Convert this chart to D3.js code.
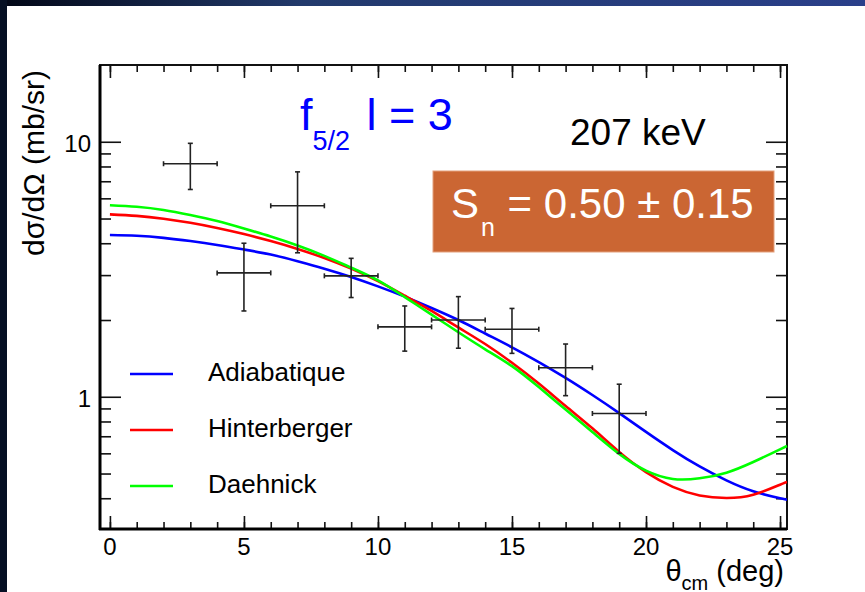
<!DOCTYPE html>
<html>
<head>
<meta charset="utf-8">
<script src="https://cdn.jsdelivr.net/npm/d3@7"></script>
<style>
  body { margin: 0; background: #fff; }
  text { font-family: "Liberation Sans", Arial, sans-serif; }
</style>
</head>
<body>
<div id="chart"></div>
<script>
// theta grid (deg) for the model curves
const thetaGrid = [0,1,2,3,4,5,6,7,8,9,10,11,12,13,14,15,16,17,18,19,20,21,22,23,24,25,25.26];
const adiabatique = [4.31,4.28,4.20,4.08,3.94,3.78,3.61,3.40,3.18,2.95,2.71,2.47,2.23,2.00,1.77,1.563,1.368,1.186,1.016,0.863,0.728,0.618,0.533,0.470,0.426,0.400,0.395];
const hinterberger = [5.19,5.12,4.99,4.81,4.59,4.345,4.08,3.80,3.50,3.18,2.84,2.49,2.17,1.87,1.61,1.36,1.127,0.920,0.752,0.608,0.506,0.443,0.410,0.401,0.413,0.452,0.463];
const daehnick     = [5.64,5.56,5.40,5.16,4.89,4.57,4.25,3.92,3.57,3.21,2.86,2.46,2.10,1.79,1.535,1.318,1.091,0.891,0.728,0.597,0.513,0.476,0.479,0.504,0.555,0.622,0.641];

// experimental points
const expTheta = [3,5,7,9,11,13,15,17,19];
const expVal   = [8.2,3.06,5.61,2.98,1.88,2.0,1.84,1.30,0.86];
const expHi    = [9.86,4.0,7.62,3.49,2.27,2.47,2.22,1.61,1.12];
const expLo    = [6.5,2.17,3.67,2.45,1.51,1.55,1.48,1.01,0.60];
const expXErr  = 1;

const seriesNames = ["Adiabatique","Hinterberger","Daehnick"];
const seriesColors = ["#0000ff","#ff0000","#00ff00"];

const xMajor = [0,5,10,15,20,25];
const xMinor = d3.range(0,26);
const yMajor = [1,10];
const yMinor = [0.4,0.5,0.6,0.7,0.8,0.9,2,3,4,5,6,7,8,9];

const W = 865, H = 592;
const pLeft = 100, pRight = 787, pTop = 65, pBottom = 529;

const svg = d3.select("#chart").append("svg").attr("width", W).attr("height", H);

// slide background strips
const defs = svg.append("defs");
const grad = defs.append("linearGradient").attr("id","topbar");
grad.append("stop").attr("offset","0%").attr("stop-color","#020716");
grad.append("stop").attr("offset","35%").attr("stop-color","#223a6c");
grad.append("stop").attr("offset","100%").attr("stop-color","#2a3f8a");
svg.append("rect").attr("x",0).attr("y",0).attr("width",W).attr("height",6).attr("fill","url(#topbar)");
svg.append("rect").attr("x",0).attr("y",0).attr("width",7).attr("height",H).attr("fill","#061024");

const xScale = d3.scaleLinear().domain([-0.37, 25.26]).range([pLeft, pRight]);
const yScale = d3.scaleLog().domain([0.303, 20]).range([pBottom, pTop]);

const g = svg.append("g");

// ticks: bottom / top / left / right, pointing inwards
function xAxis(sel, y, dir) {
  sel.append("g").attr("transform","translate(0,"+y+")")
    .call(d3.axisBottom(xScale).tickValues(xMinor).tickSize(-7*dir).tickFormat(""))
    .call(a => a.select(".domain").remove());
  sel.append("g").attr("transform","translate(0,"+y+")")
    .call(d3.axisBottom(xScale).tickValues(xMajor).tickSize(-13*dir).tickPadding(0).tickFormat(""))
    .call(a => a.select(".domain").remove());
}
function yAxis(sel, x, dir) {
  sel.append("g").attr("transform","translate("+x+",0)")
    .call(d3.axisLeft(yScale).tickValues(yMinor).tickSize(-11*dir).tickFormat(""))
    .call(a => a.select(".domain").remove());
  sel.append("g").attr("transform","translate("+x+",0)")
    .call(d3.axisLeft(yScale).tickValues(yMajor).tickSize(-21*dir).tickFormat(""))
    .call(a => a.select(".domain").remove());
}
xAxis(g, pBottom, 1);
xAxis(g, pTop, -1);
yAxis(g, pLeft, 1);
yAxis(g, pRight, -1);
g.selectAll(".tick line").attr("stroke","#111").attr("stroke-width",1.6);

// frame
g.append("rect").attr("x",pLeft).attr("y",pTop).attr("width",pRight-pLeft).attr("height",pBottom-pTop)
  .attr("fill","none").attr("stroke","#111").attr("stroke-width",2);
g.append("line").attr("x1",pLeft).attr("x2",pLeft).attr("y1",pTop).attr("y2",pBottom+1).attr("stroke","#000").attr("stroke-width",3);
g.append("line").attr("x1",pLeft-1).attr("x2",pRight).attr("y1",pBottom).attr("y2",pBottom).attr("stroke","#000").attr("stroke-width",3);

// tick labels
g.selectAll(".xlab").data(xMajor).enter().append("text")
  .attr("x", d => xScale(d)).attr("y", 555)
  .attr("text-anchor","middle").attr("font-size",24).attr("fill","#000")
  .text(d => d);
g.selectAll(".ylab").data(yMajor).enter().append("text")
  .attr("x", 91).attr("y", d => yScale(d) + 10)
  .attr("text-anchor","end").attr("font-size",24).attr("fill","#000")
  .text(d => d);

// axis titles
const xt = g.append("text").attr("x",784).attr("y",581).attr("text-anchor","end").attr("font-size",29).attr("fill","#000");
xt.append("tspan").text("θ");
xt.append("tspan").attr("font-size",20).attr("dy",9).text("cm");
xt.append("tspan").attr("dy",-9).text(" (deg)");

g.append("text").attr("transform","translate(44,163) rotate(-90)")
  .attr("text-anchor","middle").attr("font-size",30).attr("fill","#000")
  .text("dσ/dΩ (mb/sr)");

// model curves
const line = d3.line()
  .x(d => xScale(d[0])).y(d => yScale(d[1]))
  .curve(d3.curveNatural);
[adiabatique, hinterberger, daehnick].forEach((vals, i) => {
  g.append("path")
    .datum(thetaGrid.map((t, k) => [t, vals[k]]))
    .attr("d", line)
    .attr("fill","none").attr("stroke", seriesColors[i]).attr("stroke-width",2.6);
});

// experimental crosses
const pts = expTheta.map((t, i) => ({t, v: expVal[i], hi: expHi[i], lo: expLo[i]}));
const pg = g.append("g").attr("stroke","#222").attr("stroke-width",1.6);
pts.forEach(p => {
  const cx = xScale(p.t), cy = yScale(p.v);
  const x0 = xScale(p.t - expXErr), x1 = xScale(p.t + expXErr);
  const y0 = yScale(p.hi), y1 = yScale(p.lo);
  pg.append("line").attr("x1",x0).attr("x2",x1).attr("y1",cy).attr("y2",cy);
  pg.append("line").attr("x1",cx).attr("x2",cx).attr("y1",y0).attr("y2",y1);
  pg.append("line").attr("x1",x0).attr("x2",x0).attr("y1",cy-2.5).attr("y2",cy+2.5);
  pg.append("line").attr("x1",x1).attr("x2",x1).attr("y1",cy-2.5).attr("y2",cy+2.5);
  pg.append("line").attr("x1",cx-2.5).attr("x2",cx+2.5).attr("y1",y0).attr("y2",y0);
  pg.append("line").attr("x1",cx-2.5).attr("x2",cx+2.5).attr("y1",y1).attr("y2",y1);
});

// legend
const legY = [374, 430, 486];
seriesNames.forEach((name, i) => {
  g.append("line").attr("x1",130).attr("x2",173).attr("y1",legY[i]).attr("y2",legY[i])
    .attr("stroke", seriesColors[i]).attr("stroke-width",2.6);
  g.append("text").attr("x",208).attr("y",legY[i]+7).attr("font-size",26).attr("fill","#000").text(name);
});

// annotations
const ft = g.append("text").attr("x",300).attr("y",130).attr("font-size",45).attr("fill","#0000ff");
ft.append("tspan").text("f");
ft.append("tspan").attr("font-size",27).attr("dy",20).text("5/2");
ft.append("tspan").attr("dy",-20).attr("dx",4).text(" l = 3");

g.append("text").attr("x",570).attr("y",145).attr("font-size",37).attr("fill","#000").text("207 keV");

g.append("rect").attr("x",433).attr("y",171).attr("width",341).attr("height",81)
  .attr("fill","#cb6633").attr("stroke","#e3a07d").attr("stroke-width",1);
const st = g.append("text").attr("x",451).attr("y",218).attr("font-size",42).attr("fill","#fff");
st.append("tspan").text("S");
st.append("tspan").attr("font-size",25).attr("dy",18).attr("dx",2).text("n");
st.append("tspan").attr("dy",-18).attr("dx",1).text(" = 0.50 ± 0.15");
</script>
</body>
</html>
